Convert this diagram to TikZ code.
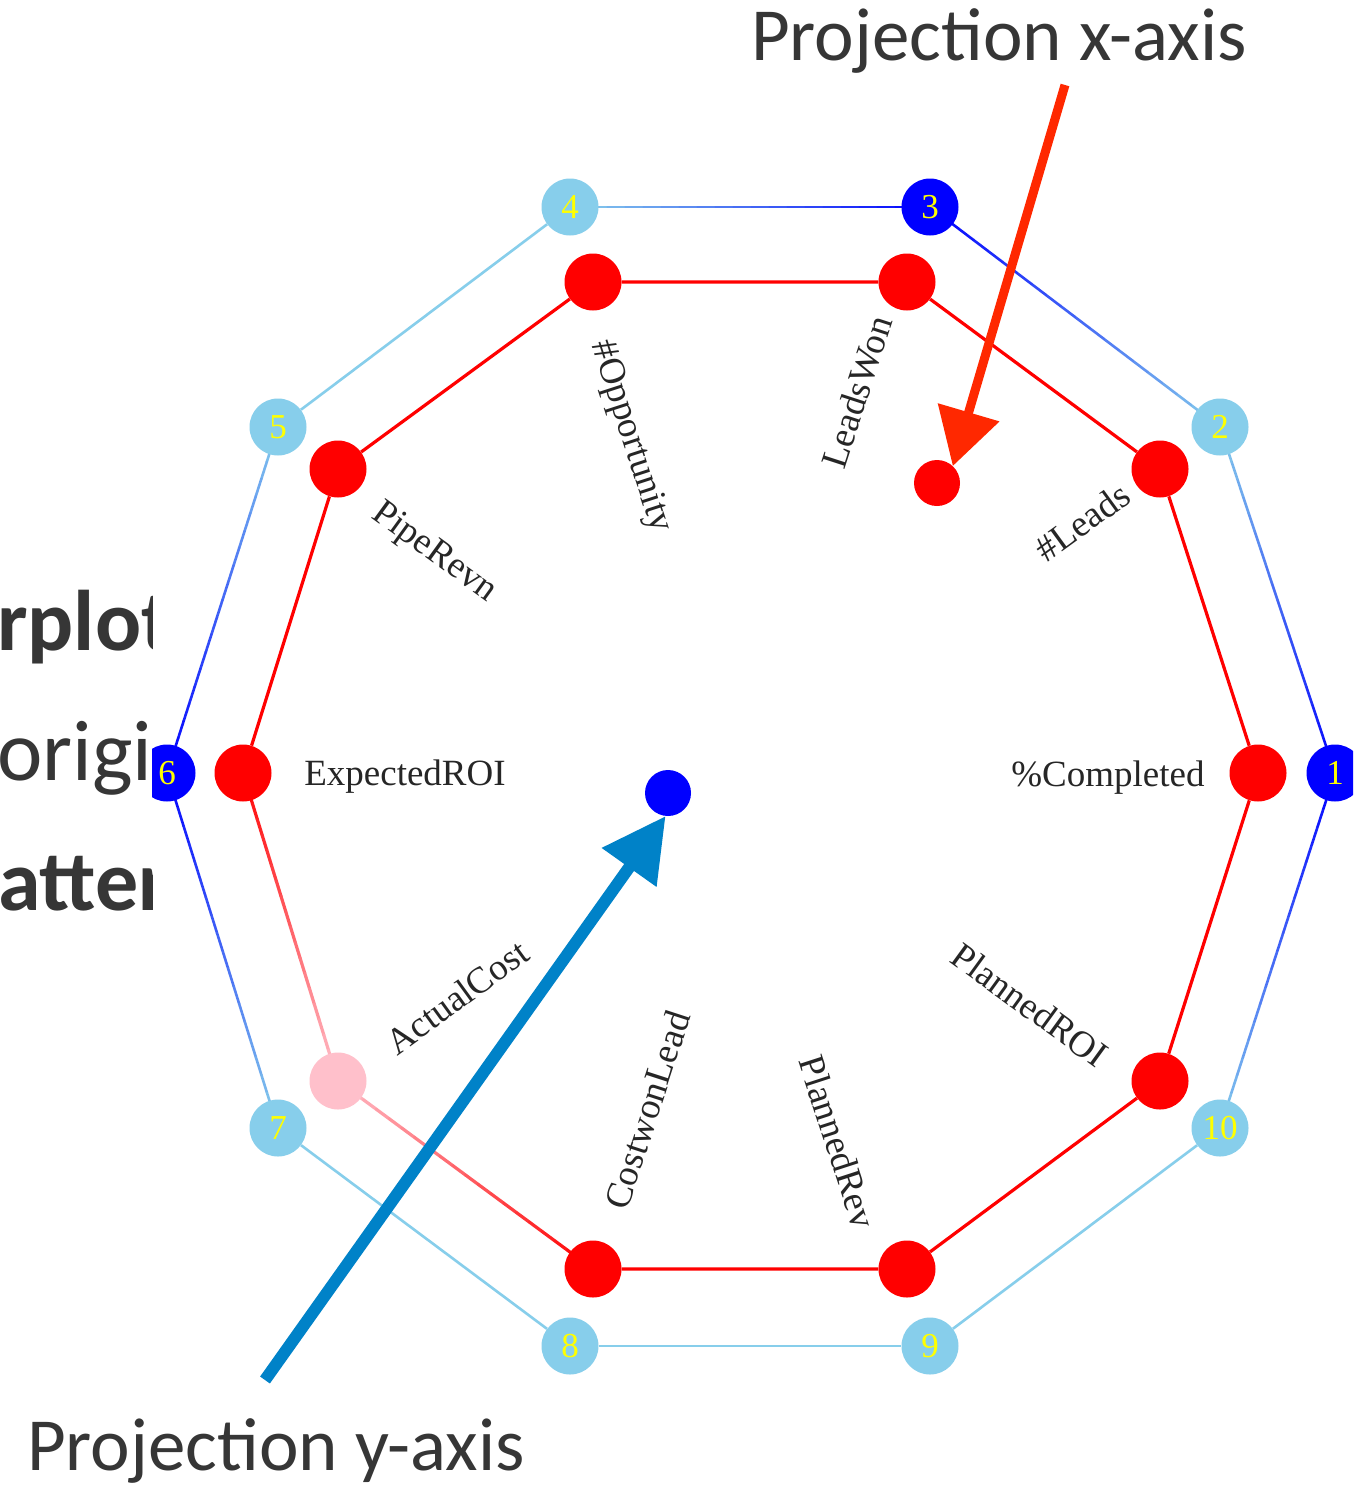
\documentclass[tikz,border=0pt]{standalone}
\usepackage{fontspec}
\setmainfont{Liberation Serif}
\newfontfamily\calibri{Carlito}
\usetikzlibrary{arrows.meta,calc,backgrounds}
\definecolor{lb}{HTML}{87CEEB}
\definecolor{bb}{HTML}{0000FF}
\definecolor{rr}{HTML}{FF0000}
\definecolor{pk}{HTML}{FFC0CB}
\definecolor{yl}{HTML}{FFFF00}
\definecolor{arrred}{RGB}{255,40,0}
\definecolor{arrblue}{RGB}{0,130,200}
\definecolor{txtgray}{HTML}{363636}
\definecolor{lbltxt}{HTML}{262626}
% gradient edge: from node #1 to node #2, colour #3 to #4, width #5
\newcommand{\gradedge}[5]{%
  \foreach \i in {0,...,19}{%
    \pgfmathsetmacro{\ta}{\i/20}%
    \pgfmathsetmacro{\tb}{(\i+1)/20}%
    \pgfmathtruncatemacro{\pc}{100-(\i+0.5)*5}%
    \draw[line width=#5, line cap=round, color=#3!\pc!#4] ($(#1)!\ta!(#2)$) -- ($(#1)!\tb!(#2)$);
  }}
\begin{document}
\begin{tikzpicture}[x=1pt,y=-1pt,
  outernode/.style={circle,inner sep=0pt,minimum size=57pt,fill=#1,
    text=yl,font=\fontsize{35}{35}\selectfont},
  innernode/.style={circle,inner sep=0pt,minimum size=57pt,fill=#1},
  dotnode/.style={circle,inner sep=0pt,minimum size=46pt,fill=#1},
  axlabel/.style={inner sep=0pt,text=lbltxt,font=\fontsize{37}{37}\selectfont},
  bigtext/.style={inner sep=0pt,text=txtgray,font=\calibri\fontsize{75}{82}\selectfont},
  sidetext/.style={inner sep=0pt,text=txtgray,anchor=base west,font=\calibri\fontsize{86}{94}\selectfont},
  sidebold/.style={sidetext,font=\calibri\bfseries\fontsize{86}{94}\selectfont},
  outeredge/.style={line width=2.6pt,lb},
  inneredge/.style={line width=3.2pt,rr}]
\useasboundingbox (0,0) rectangle (1369,1486);
\begin{pgfonlayer}{background}
  \fill[white] (0,0) rectangle (1369,1486);
\end{pgfonlayer}

% partially hidden slide text on the left
\begin{scope}
  \clip (0,0) rectangle (152,1486);
  \node[sidebold] (s1) at (-3,650) {rplot};
  \node[sidetext] (s2) at (-3,780) {origi};
  \node[sidebold] (s3) at (-2,910) {atter};
\end{scope}

\begin{scope}
  \clip (152,0) rectangle (1353,1486);
  % outer decagon
  \node[outernode=bb] (o1) at (1335,773) {1};
  \node[outernode=lb] (o2) at (1220,427) {2};
  \node[outernode=bb] (o3) at (930,207) {3};
  \node[outernode=lb] (o4) at (570,207) {4};
  \node[outernode=lb] (o5) at (278,427) {5};
  \node[outernode=bb] (o6) at (167,773) {6};
  \node[outernode=lb] (o7) at (278,1128) {7};
  \node[outernode=lb] (o8) at (570,1346) {8};
  \node[outernode=lb] (o9) at (930,1346) {9};
  \node[outernode=lb] (o10) at (1220,1128) {10};
  % inner decagon
  \node[innernode=rr] (r1) at (1258,773) {};
  \node[innernode=rr] (r2) at (1160,469) {};
  \node[innernode=rr] (r3) at (907,282) {};
  \node[innernode=rr] (r4) at (593,282) {};
  \node[innernode=rr] (r5) at (338,469) {};
  \node[innernode=rr] (r6) at (243,773) {};
  \node[innernode=pk] (r7) at (338,1081) {};
  \node[innernode=rr] (r8) at (593,1269) {};
  \node[innernode=rr] (r9) at (907,1269) {};
  \node[innernode=rr] (r10) at (1160,1081) {};
\end{scope}

% dimension labels
\node[axlabel] (l1) at (1108,778) {\%Completed};
\node[axlabel,rotate=36] (l2) at (1082,522) {\#Leads};
\node[axlabel,rotate=72] (l3) at (857,392) {LeadsWon};
\node[axlabel,rotate=-72] (l4) at (630,437) {\#Opportunity};
\node[axlabel,rotate=-36] (l5) at (434,553) {PipeRevn};
\node[axlabel] (l6) at (405,777) {ExpectedROI};
\node[axlabel,rotate=36] (l7) at (457,997) {ActualCost};
\node[axlabel,rotate=72] (l8) at (647,1110) {CostwonLead};
\node[axlabel,rotate=-72] (l9) at (838,1142) {PlannedRev};
\node[axlabel,rotate=-36] (l10) at (1030,1005) {PlannedROI};

% projected points
\node[dotnode=rr] (dx) at (937,483) {};
\node[dotnode=bb] (dy) at (668,793) {};

% edges (behind the nodes)
\begin{pgfonlayer}{background}
  \gradedge{o1}{o2}{bb}{lb}{2.6pt}
  \gradedge{o2}{o3}{lb}{bb}{2.6pt}
  \gradedge{o3}{o4}{bb}{lb}{2.6pt}
  \draw[outeredge] (o4) -- (o5);
  \gradedge{o5}{o6}{lb}{bb}{2.6pt}
  \gradedge{o6}{o7}{bb}{lb}{2.6pt}
  \draw[outeredge] (o7) -- (o8);
  \draw[outeredge] (o8) -- (o9);
  \draw[outeredge] (o9) -- (o10);
  \gradedge{o10}{o1}{lb}{bb}{2.6pt}
  \draw[inneredge] (r1) -- (r2) -- (r3) -- (r4) -- (r5) -- (r6);
  \gradedge{r6}{r7}{rr}{pk}{3.2pt}
  \gradedge{r7}{r8}{pk}{rr}{3.2pt}
  \draw[inneredge] (r8) -- (r9) -- (r10) -- (r1);
\end{pgfonlayer}

% captions and arrows
\node[bigtext,anchor=base west] (tx) at (751,60) {Projection x-axis};
\node[bigtext,anchor=base west] (ty) at (27,1470) {Projection y-axis};
\coordinate (ax) at (1065,85);
\coordinate (ay) at (265,1380);
\draw[arrred,line width=9pt,-{Triangle[length=56pt,width=62pt]}] (ax) -- (dx.47);
\draw[arrblue,line width=12pt,-{Triangle[length=63pt,width=64pt]}] (ay) -- (dy.-96);
\end{tikzpicture}
\end{document}
